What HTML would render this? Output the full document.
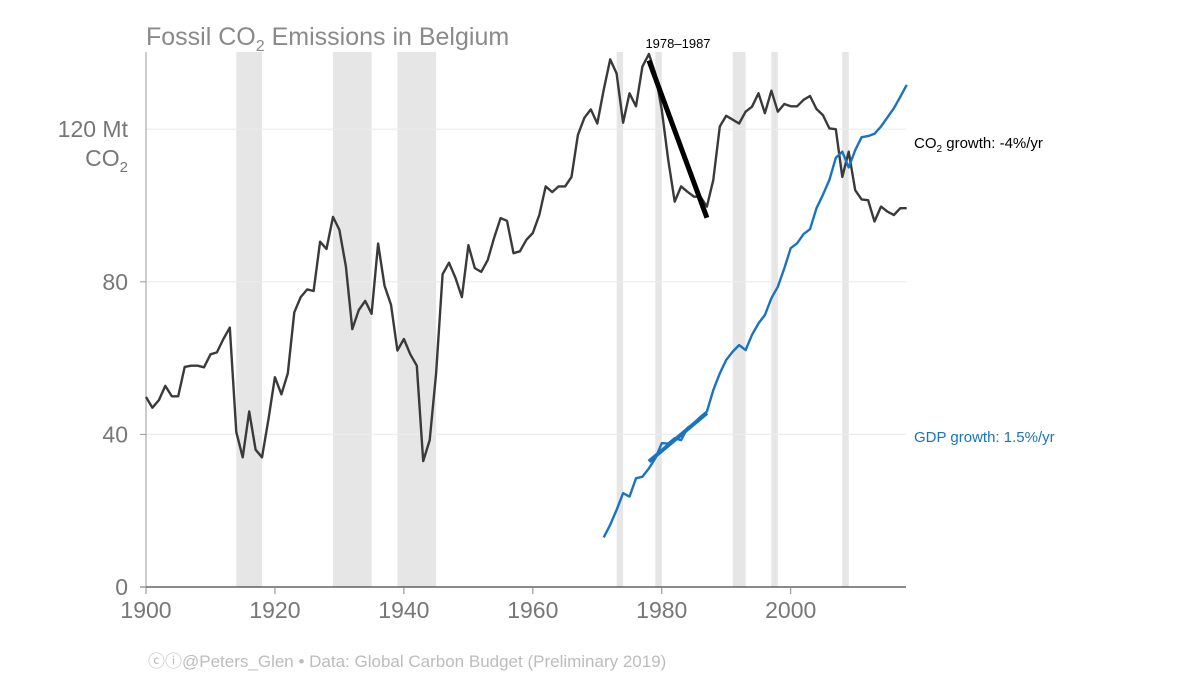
<!DOCTYPE html>
<html><head><meta charset="utf-8"><style>
body{margin:0;background:#fff;width:1200px;height:675px;overflow:hidden;font-family:"Liberation Sans",sans-serif}
svg text{font-family:"Liberation Sans",sans-serif}
</style></head><body>
<svg id="chart" width="1200" height="675" xmlns="http://www.w3.org/2000/svg">
<g id="bands"></g><g id="grid"></g><g id="axes"></g><g id="series"></g><g id="labels"></g>
<text x="146" y="45" font-size="25" fill="#8a8a8a">Fossil CO<tspan font-size="16" dy="6">2</tspan><tspan dy="-6"> Emissions in Belgium</tspan></text>
<text x="128" y="137" font-size="23" fill="#777" text-anchor="end">120 Mt</text>
<text x="128" y="166" font-size="23" fill="#777" text-anchor="end">CO<tspan font-size="15" dy="6">2</tspan></text>
<text x="678" y="48" font-size="13" fill="#000" text-anchor="middle">1978–1987</text>
<text x="914" y="148" font-size="15" fill="#000">CO<tspan font-size="10" dy="4">2</tspan><tspan dy="-4"> growth: -4%/yr</tspan></text>
<text x="914" y="442" font-size="15" fill="#1a73c0">GDP growth: 1.5%/yr</text>
<text x="148" y="667" font-size="17" fill="#bcbcbc">ⓒⓘ@Peters_Glen  •  Data: Global Carbon Budget (Preliminary 2019)</text>
</svg>
<script>
const co2Years=[];for(let y=1900;y<=2018;y++)co2Years.push(y);
const co2Values=[49.8,47,49,52.7,50,50,57.7,58,58,57.6,61,61.5,65,68,40.6,34,46,36,34,44,
55,50.5,56,72,76,78,77.6,90.5,88.6,97,93.6,84,67.6,72.6,75,71.6,90,79,74,62,
65,61,58,33,38.5,56,82,85,81,76,89.6,83.6,82.6,85.7,91.5,96.7,96,87.5,88,91,
92.8,97.5,105,103.5,105,105,107.5,118.5,123,125.2,121.5,130.3,138.3,134.6,121.7,129.4,126,136.4,139.7,134.6,
125,112,101,105,103.6,102.3,102.3,99.7,106.7,120.7,123.5,122.5,121.5,124.6,125.9,129.4,124.2,130.1,124.6,126.6,
126,126,127.7,128.7,125.3,123.7,120.2,120,107.5,114.1,104,101.6,101.4,95.8,99.7,98.4,97.5,99.3,99.3];
const gdpYears=[];for(let y=1971;y<=2018;y++)gdpYears.push(y);
const gdpValues=[13,16.3,20.2,24.6,23.7,28.5,28.9,31.1,33.7,37.7,37.6,39,38.5,41.7,42.9,44.6,46,51.6,56,59.5,
61.7,63.4,62.1,66.1,69.1,71.3,75.7,78.7,83.5,88.8,90.1,92.5,93.8,99.3,102.8,106.7,112.5,114.1,110,114.5,
117.9,118.2,118.8,120.7,123.1,125.5,128.5,131.6];
const co2TrendYears=[1978,1987];const co2TrendValues=[138,96.8];
const gdpTrendYears=[1978,1987];const gdpTrendValues=[32.9,45.6];
const bandStarts=[1914,1929,1939,1973,1979,1991,1997,2008];
const bandEnds=[1918,1935,1945,1974,1980,1993,1998,2009];
const yTicks=[0,40,80];
const xTicks=[1900,1920,1940,1960,1980,2000];
const NS='http://www.w3.org/2000/svg';
const X=y=>146+(y-1900)*6.447;
const Y=v=>587-v*3.815;
function mk(tag,attrs,parent){const e=document.createElementNS(NS,tag);for(const k in attrs)e.setAttribute(k,attrs[k]);document.getElementById(parent).appendChild(e);return e;}
bandStarts.forEach((s,i)=>{const r=mk('rect',{x:X(s),y:52,width:X(bandEnds[i])-X(s),height:535,fill:'#e6e6e6'},'bands');

});
[40,80,120].forEach(v=>{const l=mk('line',{x1:146,x2:906,y1:Y(v),y2:Y(v),stroke:'#ececec','stroke-width':1.2},'grid');

});
const ya=mk('line',{x1:146,x2:146,y1:52,y2:587,stroke:'#999','stroke-width':1},'axes');


const xa=mk('line',{x1:140,x2:906,y1:587,y2:587,stroke:'#444','stroke-width':1.3},'axes');


yTicks.forEach(v=>{const t=mk('text',{x:128,y:Y(v)+8,'font-size':23,fill:'#777','text-anchor':'end'},'axes');t.textContent=v;


const tk=mk('line',{x1:140,x2:146,y1:Y(v),y2:Y(v),stroke:'#999'},'axes');

});
xTicks.forEach(v=>{const t=mk('text',{x:X(v),y:618,'font-size':23,fill:'#777','text-anchor':'middle'},'axes');t.textContent=v;


const tk=mk('line',{x1:X(v),x2:X(v),y1:587,y2:594,stroke:'#888'},'axes');

});
function pts(xs,vs){return xs.map((y,i)=>X(y).toFixed(1)+','+Y(vs[i]).toFixed(1)).join(' ');}
const c=mk('polyline',{points:pts(co2Years,co2Values),fill:'none',stroke:'#3a3a3a','stroke-width':2.4,'stroke-linejoin':'round'},'series');


const g=mk('polyline',{points:pts(gdpYears,gdpValues),fill:'none',stroke:'#1a73c0','stroke-width':2.4,'stroke-linejoin':'round'},'series');


const ct=mk('polyline',{points:pts(co2TrendYears,co2TrendValues),fill:'none',stroke:'#000','stroke-width':5},'series');


const gt=mk('polyline',{points:pts(gdpTrendYears,gdpTrendValues),fill:'none',stroke:'#1a73c0','stroke-width':4},'series');


</script>
</body></html>
